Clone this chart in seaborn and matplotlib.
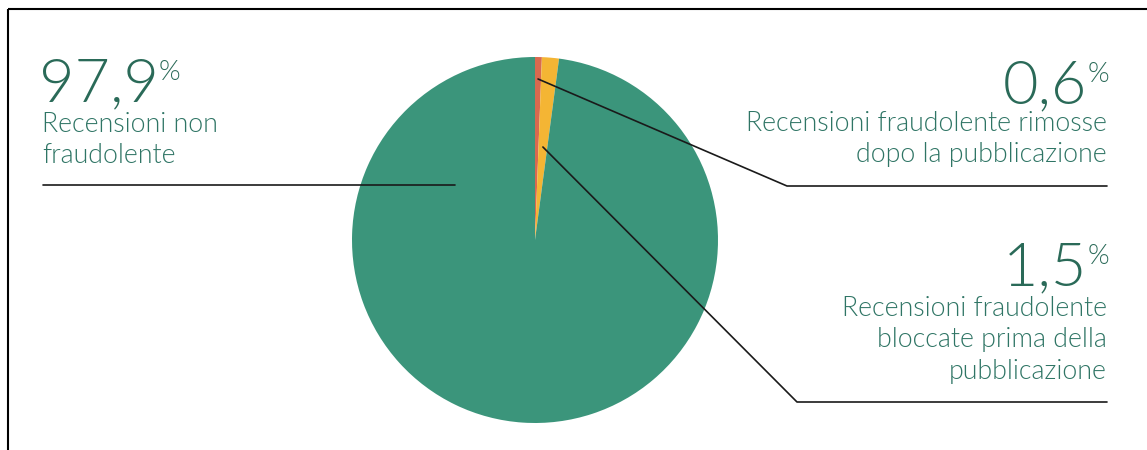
import numpy as np
import matplotlib
matplotlib.use("Agg")
import matplotlib.pyplot as plt
import seaborn as sns

# ---- data ----
labels = ["Recensioni fraudolente rimosse\ndopo la pubblicazione",
          "Recensioni fraudolente\nbloccate prima della\npubblicazione",
          "Recensioni non\nfraudolente"]
values = [0.6, 1.5, 97.9]
value_texts = ["0,6", "1,5", "97,9"]
colors = ["#d9694f", "#f4b534", "#3b957b"]

W, H = 1147, 450
sns.set_theme(style="white")
plt.rcParams['font.family'] = ['Lato', 'DejaVu Sans']

fig = plt.figure(figsize=(W / 100, H / 100), dpi=100)
ax = fig.add_axes([0, 0, 1, 1])

def Y(py):
    return H - py

cx, cy, R = 535, 240, 183
wedges, _ = ax.pie(values, colors=colors, startangle=90, counterclock=False,
                   center=(cx, Y(cy)), radius=R, wedgeprops=dict(linewidth=0))
ax.set_xlim(0, W)
ax.set_ylim(0, H)
ax.set_aspect("equal")
ax.axis("off")

# frame
ax.plot([8, W], [Y(9), Y(9)], color="black", lw=1.5, solid_capstyle="butt")
ax.plot([8, 8], [Y(9), 0], color="black", lw=1.5, solid_capstyle="butt")

num_color = "#2a6a58"
lab_color = "#2f7565"
FW = 300

def mid_point(w, frac):
    ang = np.deg2rad((w.theta1 + w.theta2) / 2)
    return cx + frac * R * np.cos(ang), Y(cy) + frac * R * np.sin(ang)

# leader lines
p0 = mid_point(wedges[0], 0.88)
ax.plot([p0[0], 787, 1107], [p0[1], Y(186), Y(186)], color="#1a1a1a", lw=1.2)
p1 = mid_point(wedges[1], 0.51)
ax.plot([p1[0], 797, 1107], [p1[1], Y(402), Y(402)], color="#1a1a1a", lw=1.2)
ax.plot([43, 455], [Y(185), Y(185)], color="#1a1a1a", lw=1.2)

fig.canvas.draw()
renderer = fig.canvas.get_renderer()

def big_number(txt, x, ytop, align):
    pct = ax.text(0, 0, "%", fontsize=20, color=num_color, fontweight=FW, va="top", ha="left")
    num = ax.text(0, 0, txt, fontsize=44, color=num_color, fontweight=FW, va="top", ha="left")
    pw = pct.get_window_extent(renderer).width
    nw = num.get_window_extent(renderer).width
    if align == "left":
        nx = x
    else:
        nx = x - pw - nw
    num.set_position((nx, Y(ytop)))
    pct.set_position((nx + nw, Y(ytop + 3)))

big_number(value_texts[2], 39, 57, "left")
big_number(value_texts[0], 1109, 59, "right")
big_number(value_texts[1], 1109, 241, "right")

ax.text(42, Y(112), labels[2], fontsize=19.3, color=lab_color, fontweight=FW,
        va="top", ha="left", linespacing=1.32)
ax.text(1107, Y(111), labels[0], fontsize=19.3, color=lab_color, fontweight=FW,
        va="top", ha="right", multialignment="right", linespacing=1.32)
ax.text(1107, Y(296), labels[1], fontsize=19.3, color=lab_color, fontweight=FW,
        va="top", ha="right", multialignment="right", linespacing=1.32)

fig.savefig("out.png", dpi=100, facecolor="white")
